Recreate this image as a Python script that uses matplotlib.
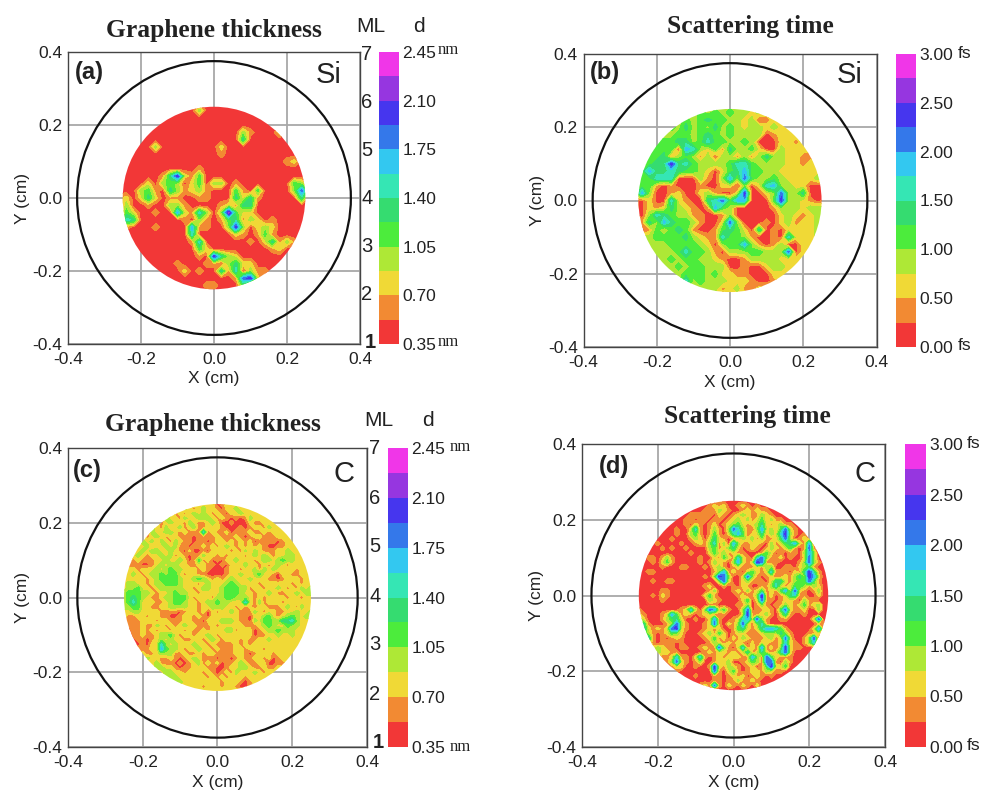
import numpy
import matplotlib
matplotlib.use('Agg')
import matplotlib.pyplot as plt
from matplotlib.colors import ListedColormap, BoundaryNorm
from matplotlib.patches import Circle

plt.rcParams['font.family'] = ['Liberation Sans', 'DejaVu Sans']
plt.rcParams['axes.unicode_minus'] = False

# --- CONFIG
W, H = 984, 792
COLORS = ['#f23737', '#f28a33', '#f0d936', '#aee836', '#4cec3c', '#35dc70',
          '#35e6b4', '#33c8f0', '#3478ea', '#4636ee', '#9636e0', '#f036e8']

# --- Data : colour band read at each node, one char per node (a = band 10)
# (a),(b) : 27 x 27 nodes over +-0.26 cm ; (c),(d) : 41 x 41 nodes over +-0.25 cm
# first row is the top of the map
bands_a = """
00000 00000 00000 00000 00000 00
00000 00000 03000 00000 00000 00
00000 00000 00000 00000 00000 00
00000 00000 00000 00000 00000 00
00000 00000 00000 00310 00200 00
00000 00000 00000 00500 00000 00
00000 30000 00002 00000 00000 00
00000 00000 00001 00000 00000 00
00000 00000 00000 00000 00012 00
00000 00000 01000 00000 00000 00
00000 01592 14000 00000 00000 00
00002 03430 24033 01000 00004 30
00034 10531 23100 04104 00003 83
12025 20110 01100 05251 00000 50
03001 00331 00001 21550 00000 00
04200 10072 16303 a4220 00000 00
06500 00001 03101 45132 01000 00
01000 10000 71100 39302 32000 00
00000 00000 60000 02101 41000 00
00000 00000 16000 00010 25131 00
00000 00000 04200 00000 01200 00
00000 00000 01095 32000 00000 00
00000 00010 00110 35220 00000 00
00000 00002 01005 16031 10000 00
00000 00000 00000 01892 00000 00
00000 00000 00110 00400 00000 00
00000 00000 00000 00000 00000 00
"""
bands_b = """
33333 33333 33333 33333 33333 33
33333 33334 34343 32322 33333 33
33333 33434 54433 23012 23333 33
33333 43534 35343 23323 22233 33
33333 34434 54343 33301 22222 33
33344 45534 64433 43000 22122 33
33344 40763 24153 34200 32222 23
33445 13431 30331 31353 32211 22
33455 95643 33346 64333 32212 22
34755 65443 20245 74433 22222 22
34466 60003 10373 84334 32222 33
34410 10001 00220 30267 33220 00
37300 12002 31002 90023 83350 00
10200 62100 56847 70004 93321 01
10212 53210 17430 00001 33323 33
10365 43311 00130 00000 23212 33
11537 54431 00283 00010 23122 33
10142 45410 01454 20501 02222 33
33344 44532 11644 31001 06222 33
33333 44443 20344 73101 30022 33
33333 34644 31033 34433 38022 33
33333 43443 32100 13333 22222 22
33333 34344 33300 10023 32222 22
33333 33444 34221 10002 22222 22
33333 33634 33322 21001 22222 22
33333 33333 33123 11222 22222 22
33333 33333 32222 22222 22222 22
"""
bands_c = """
22222 22222 22222 22222 01222 22222 22222 22222 2
22222 22222 22232 12322 10223 22222 22222 22222 2
22222 22222 31212 32321 21022 32222 22222 22222 2
22222 22223 22132 23332 12101 01322 22222 22222 2
22222 22312 32213 21123 20010 00211 22222 22222 2
22222 23213 12312 31122 21000 10122 13222 22222 2
22222 13223 32121 11612 11201 11211 21222 22222 2
22222 12321 22111 01111 21112 10122 11122 22222 2
22223 23132 13211 01101 22121 21201 11101 22222 2
22222 31223 23110 11212 12321 21212 10011 22222 2
22223 23322 32102 00102 22212 13132 11122 32222 2
22232 12232 31210 11322 12122 21232 32122 33222 2
22121 11223 22320 14120 10223 22212 33234 33222 2
21110 01232 33221 12211 01022 23221 21232 12222 2
22212 22323 43322 21210 00122 12231 32322 22122 2
22321 23343 44212 21100 00122 32134 22102 21122 2
22222 12344 44322 34321 21232 22322 21101 22212 2
23322 12334 44322 21232 22343 22221 22222 21212 2
23342 21233 33322 12332 23444 33122 12232 12132 3
34443 32122 34332 21222 23444 32212 23211 22323 3
34543 21123 34442 12221 33443 33212 12222 12212 2
34642 22112 34432 21233 43322 26213 12221 22222 2
33442 21122 33332 21223 33221 21202 21112 32132 2
22332 22211 11012 21202 12232 11132 12211 22322 3
21122 12211 00122 12102 22222 11022 34212 34323 3
11112 22122 11122 11022 23332 11032 44335 56322 2
11112 11321 21232 21112 12222 21112 34322 43322 2
00112 12122 12212 11212 22331 22201 23343 33222 2
00112 11233 42122 12232 12222 22201 12232 23222 2
20011 01232 32211 22123 21222 12112 23222 22222 2
22101 02263 23222 32212 11112 12122 22222 22222 2
22211 12274 33212 23221 21112 21222 12222 22222 2
22222 11233 31121 12122 11112 21012 22122 22222 2
22222 32211 21012 32111 01101 21122 12012 22222 2
22222 22311 10101 23121 20112 32112 20011 22222 2
22222 22332 21011 22211 00122 33211 21122 22222 2
22222 22223 32212 22121 01213 22232 12222 22222 2
22222 22223 33222 22212 12122 21222 22222 22222 2
22222 22222 23322 22222 21222 10122 22222 22222 2
22222 22222 22222 22122 21221 00122 22222 22222 2
22222 22222 22222 22222 22222 22222 22222 22222 2
"""
bands_d = """
00000 00000 00000 00100 00000 00000 00000 00000 0
00000 00000 00000 12120 01210 10000 00000 00000 0
00000 00000 00001 11321 00121 21100 00000 00000 0
00000 00000 01111 10210 12321 13210 00000 00000 0
00000 00000 11011 01101 23131 24131 10000 00000 0
00000 00000 10210 12012 34212 35212 31100 00000 0
00000 00010 02610 13103 86310 37231 48210 00000 0
00000 00010 03410 14102 57402 25132 69310 10000 0
00000 00100 01320 25210 11323 13112 48201 21000 0
00001 00001 00121 36130 73112 21031 24572 17000 0
00000 10100 10000 34123 52012 10132 12410 18100 0
00000 00000 01000 24231 21100 01420 10110 37300 0
00110 13100 00010 02142 16210 58311 20100 28300 0
00010 24100 00010 13210 37212 98111 00001 38310 0
00000 10001 10001 02310 12111 21330 01102 34100 0
00110 00000 00000 01371 21024 21261 11021 59510 0
00000 00000 00001 03983 00283 10120 12135 39720 0
00010 01100 00000 00382 00231 11025 52134 48410 0
00000 00000 00001 20010 10210 01136 21244 31320 0
00000 11000 00000 13000 12131 24121 47282 10130 0
00010 21000 00002 41000 01201 39120 12561 10020 0
00000 10000 00000 32100 00240 28110 12210 31100 0
00000 00000 00000 11000 01130 13101 13212 41230 0
10000 00001 26203 87241 00380 11210 48211 20030 0
21000 12741 21012 21110 00291 12310 25100 10000 0
32000 13452 00100 27100 12672 83100 11000 00280 0
25100 01383 10001 28102 13821 36100 00000 00011 0
36212 12892 10001 21200 14521 25776 41000 00271 0
14310 12432 00012 31420 12211 12332 53100 01120 0
13610 10121 00001 24120 21321 11231 28200 13800 0
01310 11101 00000 13212 12102 02211 26210 13610 0
00123 21101 10012 11831 02612 17120 39211 00000 0
00113 22110 00001 21221 21251 25212 58200 00000 0
00001 11261 10261 01212 22117 31842 11100 00000 0
00000 01382 10130 01223 00124 31881 03100 00000 0
00000 00122 00100 19213 21012 01492 24000 00000 0
00000 00010 00000 08102 41012 21321 10000 00000 0
00000 00000 00100 01101 21201 21010 00000 00000 0
00000 00000 00000 01101 13112 10000 00000 00000 0
00000 00000 00012 18102 10210 20000 00000 00000 0
00000 00000 00000 00000 00000 00000 00000 00000 0
"""

thick_levels = [0.35, 0.525, 0.70, 0.875, 1.05, 1.225, 1.40, 1.575, 1.75, 1.925, 2.10, 2.275, 2.45]
tau_levels = [0.0, 0.25, 0.50, 0.75, 1.00, 1.25, 1.50, 1.75, 2.00, 2.25, 2.50, 2.75, 3.00]
thick_ticks = ['0.35', '0.70', '1.05', '1.40', '1.75', '2.10', '2.45']
tau_ticks = ['0.00', '0.50', '1.00', '1.50', '2.00', '2.50', '3.00']
ml_labels = ['1', '2', '3', '4', '5', '6', '7']
xy_ticks = [-0.4, -0.2, 0.0, 0.2, 0.4]


def read_bands(txt):
    rows = [r.replace(" ", "") for r in txt.strip().splitlines()]
    return numpy.array([[int(c, 16) for c in r] for r in rows], dtype=float)


def box(l, t, r, b):
    # pixel box to figure fraction
    return [l / W, 1 - b / H, (r - l) / W, (b - t) / H]


def ftext(x, y, s, **kw):
    kw.setdefault('ha', 'center')
    kw.setdefault('va', 'center')
    fig.text(x / W, 1 - y / H, s, **kw)


cmap = ListedColormap(COLORS)
fig = plt.figure(figsize=(W / 100, H / 100), dpi=100)


def panel(bands, half, levels, rect, crect, tag, tagxy, sub, subxy):
    ax = fig.add_axes(box(*rect))
    step = levels[1] - levels[0]
    z = levels[0] + (read_bands(bands) + 0.5) * step
    nx = numpy.linspace(-half, half, z.shape[1])
    ny = numpy.linspace(half, -half, z.shape[0])
    norm = BoundaryNorm(levels, cmap.N)
    ax.grid(True, color='#a8a8a8', lw=1.3)
    ax.set_axisbelow(True)
    cs = ax.contourf(nx, ny, z, levels=levels, cmap=cmap, norm=norm, zorder=2)
    cs.set_clip_path(Circle((0, 0), 0.25, transform=ax.transData))
    ax.add_patch(Circle((0, 0), 0.375, fill=False, ec='#111111', lw=1.6, zorder=3))
    ax.set_xlim(-0.4, 0.4)
    ax.set_ylim(-0.4, 0.4)
    ax.set_xticks(xy_ticks)
    ax.set_yticks(xy_ticks)
    ax.set_xticklabels(['%.1f' % v for v in xy_ticks])
    ax.set_yticklabels(['%.1f' % v for v in xy_ticks])
    ax.tick_params(length=0, labelsize=12.5, pad=4, colors='#222222')
    ax.tick_params(axis='x', pad=6)
    ax.set_xlabel("X (cm)", fontsize=12.5, labelpad=3, color='#222222')
    ax.set_ylabel("Y (cm)", fontsize=12.5, labelpad=2, color='#222222')
    for s in ax.spines.values():
        s.set_color('#444444')
        s.set_linewidth(1.0)
    ftext(tagxy[0], tagxy[1], tag, fontsize=17, fontweight='bold', color='#222222')
    ftext(subxy[0], subxy[1], sub, fontsize=21, color='#222222')
    # colour bar
    cax = fig.add_axes(box(*crect))
    cb = fig.colorbar(cs, cax=cax, ticks=levels[::2], drawedges=False)
    cb.minorticks_off()
    cax.set_yticklabels(thick_ticks if levels is thick_levels else tau_ticks)
    cax.tick_params(which='both', length=0, labelsize=12.5, pad=2.5, colors='#222222')
    cax.spines['outline'].set_visible(False)
    return ax


def ml_column(x, top, bot):
    for i, lab in enumerate(ml_labels):
        y = bot + (top - bot) * i / 6.0
        ftext(x + (3 if i == 0 else 0), y, lab, fontsize=14.5, color='#222222',
              fontweight='bold' if i == 0 else 'normal')


panel(bands_a, 0.26, thick_levels, (68, 52, 360, 344), (379, 52, 399, 344), "(a)", (89, 73), "Si", (329, 75))
panel(bands_b, 0.26, tau_levels, (583.5, 54, 876.5, 347), (896, 54, 916, 347), "(b)", (605, 73), "Si", (850, 75))
panel(bands_c, 0.25, thick_levels, (68, 448, 367, 747), (388, 448, 408, 747), "(c)", (87, 471), "C", (344, 474))
panel(bands_d, 0.25, tau_levels, (582, 444, 885, 747), (905, 444, 926, 747), "(d)", (614, 467), "C", (865, 474))

# --- titles and hand placed labels
title_kw = dict(fontsize=18.4, fontweight='bold', family='Liberation Serif', color='#222222')
ftext(214, 31, "Graphene thickness", **title_kw)
ftext(750, 27, "Scattering time", **title_kw)
ftext(213, 424, "Graphene thickness", **title_kw)
ftext(747, 417, "Scattering time", **title_kw)

ml_column(367, 54, 343)
ml_column(375, 449, 743)
ftext(371, 27, "ML", fontsize=15, color='#222222')
ftext(419, 27, "d", fontsize=15, color='#222222')
ftext(379, 421, "ML", fontsize=15, color='#222222')
ftext(428, 421, "d", fontsize=15, color='#222222')

nm_kw = dict(fontsize=12, family='Liberation Serif', color='#222222', ha='left')
ftext(438, 50, "nm", **nm_kw)
ftext(438, 342, "nm", **nm_kw)
ftext(450, 447, "nm", **nm_kw)
ftext(450, 747, "nm", **nm_kw)

fs_kw = dict(fontsize=12.5, color='#222222', ha='left')
ftext(958, 53, "fs", **fs_kw)
ftext(958, 346, "fs", **fs_kw)
ftext(967, 444, "fs", **fs_kw)
ftext(967, 746, "fs", **fs_kw)

plt.savefig("out.png", dpi=100)
